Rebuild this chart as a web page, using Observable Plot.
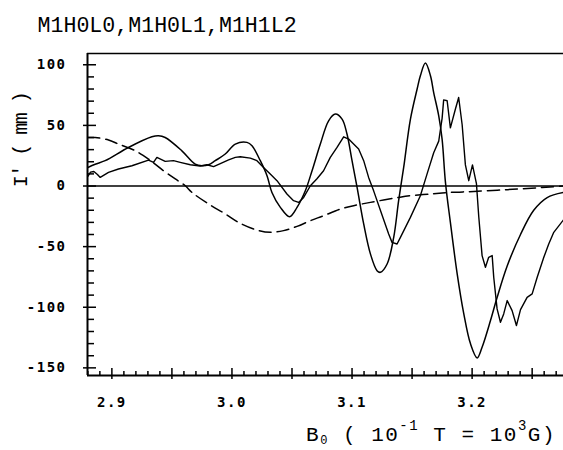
<!DOCTYPE html>
<html>
<head>
<meta charset="utf-8">
<script src="https://cdn.jsdelivr.net/npm/d3@7"></script>
<script src="https://cdn.jsdelivr.net/npm/@observablehq/plot@0.6"></script>
<style>
  body { margin: 0; background: #fff; }
  #chart svg { display: block; }
</style>
</head>
<body>
<div id="chart"></div>
<script>
// Series labels shown in the heading
const seriesNames = ["M1H0L0", "M1H0L1", "M1H1L2"];

// Spectra as [B0 (10^-1 T), I' (mm)] pairs
const solidA = [
  [2.880, 15.3], [2.8861, 18], [2.8944, 20.9], [2.9138, 31.8], [2.9333, 40.6], [2.9388, 41.5],
  [2.9444, 40], [2.9583, 29], [2.9694, 18], [2.975, 16.7], [2.9805, 17.5], [2.9861, 20.9],
  [2.9944, 26.4], [3.0028, 34.6], [3.0125, 36], [3.0167, 33.2], [3.0236, 20.9], [3.0292, 8.5],
  [3.0333, -5.3], [3.0403, -17.6], [3.048, -25.3], [3.0542, -17.6], [3.0611, -3.9], [3.0667, 12.6],
  [3.0736, 34.6], [3.0805, 53.8], [3.0861, 59.3], [3.0917, 55.2], [3.0958, 42.9], [3.1, 20.9],
  [3.1042, -1.2], [3.1097, -31.3], [3.1153, -56], [3.1208, -69.8], [3.1236, -71.2], [3.1292, -64.3],
  [3.1347, -42.4], [3.1388, -12.1], [3.143, 15.3], [3.1486, 55], [3.1542, 80], [3.1569, 90.9],
  [3.1611, 101.4], [3.1653, 91], [3.168, 77.1], [3.1722, 57.9], [3.175, 38.7], [3.1778, 3],
  [3.1819, -30], [3.1875, -72], [3.193, -105], [3.1986, -130], [3.2042, -141.8], [3.2083, -133],
  [3.2153, -111], [3.2208, -92], [3.2292, -66], [3.2403, -40], [3.2513, -20], [3.2625, -9.5],
  [3.2761, -5.3]
];

const solidB = [
  [2.880, 8], [2.8822, 11.5], [2.885, 12], [2.888, 9.5], [2.8903, 7.1], [2.8972, 11.2],
  [2.9055, 14], [2.9167, 16.7], [2.9305, 21.4], [2.9347, 19.5], [2.9375, 23.6], [2.9444, 20.3],
  [2.9513, 20.9], [2.9569, 19.5], [2.9653, 17.5], [2.9736, 16.5], [2.9792, 17.5], [2.9847, 16],
  [2.9903, 18.5], [2.9972, 21.5], [3.0028, 23.6], [3.0069, 24.1], [3.0153, 23], [3.0208, 20.9],
  [3.0263, 15.3], [3.0319, 9.9], [3.0375, 4.4], [3.0458, -6.6], [3.0513, -12.1], [3.0555, -13.5],
  [3.0597, -9.4], [3.0653, 0.2], [3.0708, 6], [3.0763, 12.6], [3.0819, 23.6], [3.0875, 31.8],
  [3.093, 40.6], [3.0972, 38.7], [3.1013, 34.6], [3.1055, 30.5], [3.1097, 20.9], [3.1138, 7.1],
  [3.118, -4], [3.1236, -20], [3.1305, -39.6], [3.1333, -46.5], [3.1375, -47.8], [3.1403, -42.4],
  [3.1486, -25.9], [3.1569, -8], [3.1625, 10], [3.168, 27.5], [3.1722, 37], [3.175, 55.8],
  [3.1763, 71], [3.1792, 70.3], [3.1819, 48], [3.1861, 63.5], [3.1888, 73], [3.1917, 50.5],
  [3.1944, 17.4], [3.1972, 4.4], [3.2003, 17.4], [3.2036, 2], [3.2055, -25], [3.2083, -57.4],
  [3.2111, -67], [3.2138, -58.8], [3.2167, -57.4], [3.218, -75.3], [3.2208, -101.4], [3.2236, -112.4],
  [3.2263, -105.5], [3.2292, -94.5], [3.2333, -102.8], [3.2369, -115.1], [3.2403, -102], [3.2458, -91.8],
  [3.25, -89], [3.2542, -75.3], [3.2597, -58.8], [3.2638, -47.8], [3.268, -38.2], [3.2761, -27.9]
];

const dashedC = [
  [2.880, 40], [2.8861, 40], [2.8972, 37.9], [2.9055, 34.6], [2.9194, 29.1], [2.9305, 22.2],
  [2.943, 12.6], [2.9528, 5.8], [2.9611, 0.2], [2.9667, -5.3], [2.9805, -14.8], [2.9944, -23],
  [3.0069, -30.8], [3.0208, -36.3], [3.0319, -38.2], [3.043, -36.8], [3.0542, -33.3], [3.0653, -28.6],
  [3.0763, -24.5], [3.0903, -19], [3.1013, -16.2], [3.1153, -13.5], [3.1388, -9.4], [3.1486, -8],
  [3.168, -6.4], [3.1819, -5.3], [3.2013, -4.5], [3.2292, -3], [3.2583, -1.2], [3.2761, 0]
];

// Axis ticks and ranges
const xTickLabels = [2.9, 3.0, 3.1, 3.2];
const yTickLabels = [-150, -100, -50, 0, 50, 100];
const bRange = [2.8797, 3.2761];
const iRange = [-156.3, 109.3];

const W = 563, H = 450;
const margin = {top: 53, right: 0, bottom: 75, left: 87};
const innerW = W - margin.left - margin.right;
const innerH = H - margin.top - margin.bottom;

const xMinor = d3.range(288, 328).filter(d => d % 5 !== 0).map(d => d / 100);
const xMajor = d3.range(290, 328, 5).map(d => d / 100);
const yMinor = d3.range(-150, 110, 10).filter(d => d % 50 !== 0);
const yMajor = d3.range(-150, 110, 50);

const mono = "'DejaVu Sans Mono', 'Liberation Mono', monospace";
const titleFont = "'Liberation Mono', 'DejaVu Sans Mono', monospace";

const chart = Plot.plot({
  width: W,
  height: H,
  marginTop: margin.top,
  marginRight: margin.right,
  marginBottom: margin.bottom,
  marginLeft: margin.left,
  style: {background: "#fff", color: "#000"},
  x: {domain: bRange},
  y: {domain: iRange},
  marks: [
    // frame lines
    Plot.ruleX([bRange[0]], {stroke: "#000", strokeWidth: 2}),
    Plot.ruleY([iRange[0]], {stroke: "#000", strokeWidth: 2}),
    Plot.ruleY([iRange[1]], {stroke: "#000", strokeWidth: 1.6}),
    Plot.ruleY([0], {stroke: "#000", strokeWidth: 1.5}),
    // y ticks (inward)
    Plot.tickY(yMinor, {y: d => d, insetRight: innerW - 7, stroke: "#000", strokeWidth: 1.5}),
    Plot.tickY(yMajor, {y: d => d, insetLeft: -4, insetRight: innerW - 9, stroke: "#000", strokeWidth: 1.5}),
    // x ticks (upward from the bottom line)
    Plot.tickX(xMinor, {x: d => d, insetTop: innerH - 4, stroke: "#000", strokeWidth: 1.5}),
    Plot.tickX(xMajor, {x: d => d, insetTop: innerH - 7, insetBottom: -4, stroke: "#000", strokeWidth: 1.5}),
    // tick labels
    Plot.axisY({ticks: yTickLabels, tickSize: 0, tickPadding: 21, tickFormat: d => String(d),
      label: null, fontSize: 14, fontWeight: "bold", fontFamily: mono}),
    Plot.axisX({ticks: xTickLabels, tickSize: 0, tickPadding: 22, tickFormat: d3.format(".1f"),
      label: null, fontSize: 14, fontWeight: "bold", fontFamily: mono}),
    // spectra
    Plot.line(dashedC, {x: d => d[0], y: d => d[1], stroke: "#000", strokeWidth: 1.5,
      strokeDasharray: "12,6", curve: "catmull-rom"}),
    Plot.line(solidA, {x: d => d[0], y: d => d[1], stroke: "#000", strokeWidth: 1.5, curve: "catmull-rom"}),
    Plot.line(solidB, {x: d => d[0], y: d => d[1], stroke: "#000", strokeWidth: 1.4}),
    // heading
    Plot.text([seriesNames.join(",")], {frameAnchor: "top-left", text: d => d, textAnchor: "start",
      lineAnchor: "bottom", dx: -50, dy: -22, fontSize: 21.6, fontFamily: titleFont})
  ]
});

document.getElementById("chart").appendChild(chart);
const svg = d3.select(chart);
svg.selectAll('g[aria-label="y-axis tick label"] text, g[aria-label="x-axis tick label"] text')
  .style("letter-spacing", "1.5px");

// Axis titles with raised exponents and subscript
const yTitle = svg.append("text")
  .attr("transform", "translate(21,140) rotate(-90)")
  .attr("text-anchor", "middle")
  .attr("dominant-baseline", "central")
  .attr("font-family", titleFont)
  .attr("font-size", 20)
  .style("letter-spacing", "-1.5px")
  .attr("fill", "#000");
yTitle.append("tspan").text("I\u2032 ( mm )");

const xTitle = svg.append("text")
  .attr("x", 556)
  .attr("y", 441)
  .attr("text-anchor", "end")
  .attr("font-family", titleFont)
  .attr("font-size", 21)
  .style("letter-spacing", "1.5px")
  .attr("fill", "#000");
xTitle.append("tspan").text("B");
xTitle.append("tspan").attr("font-size", 12).attr("dy", 3).text("0");
xTitle.append("tspan").attr("dy", -3).text(" ( 10");
xTitle.append("tspan").attr("font-size", 14).attr("dy", -11).text("-1");
xTitle.append("tspan").attr("dy", 11).text(" T = 10");
xTitle.append("tspan").attr("font-size", 14).attr("dy", -11).text("3");
xTitle.append("tspan").attr("dy", 11).text("G)");
</script>
</body>
</html>
